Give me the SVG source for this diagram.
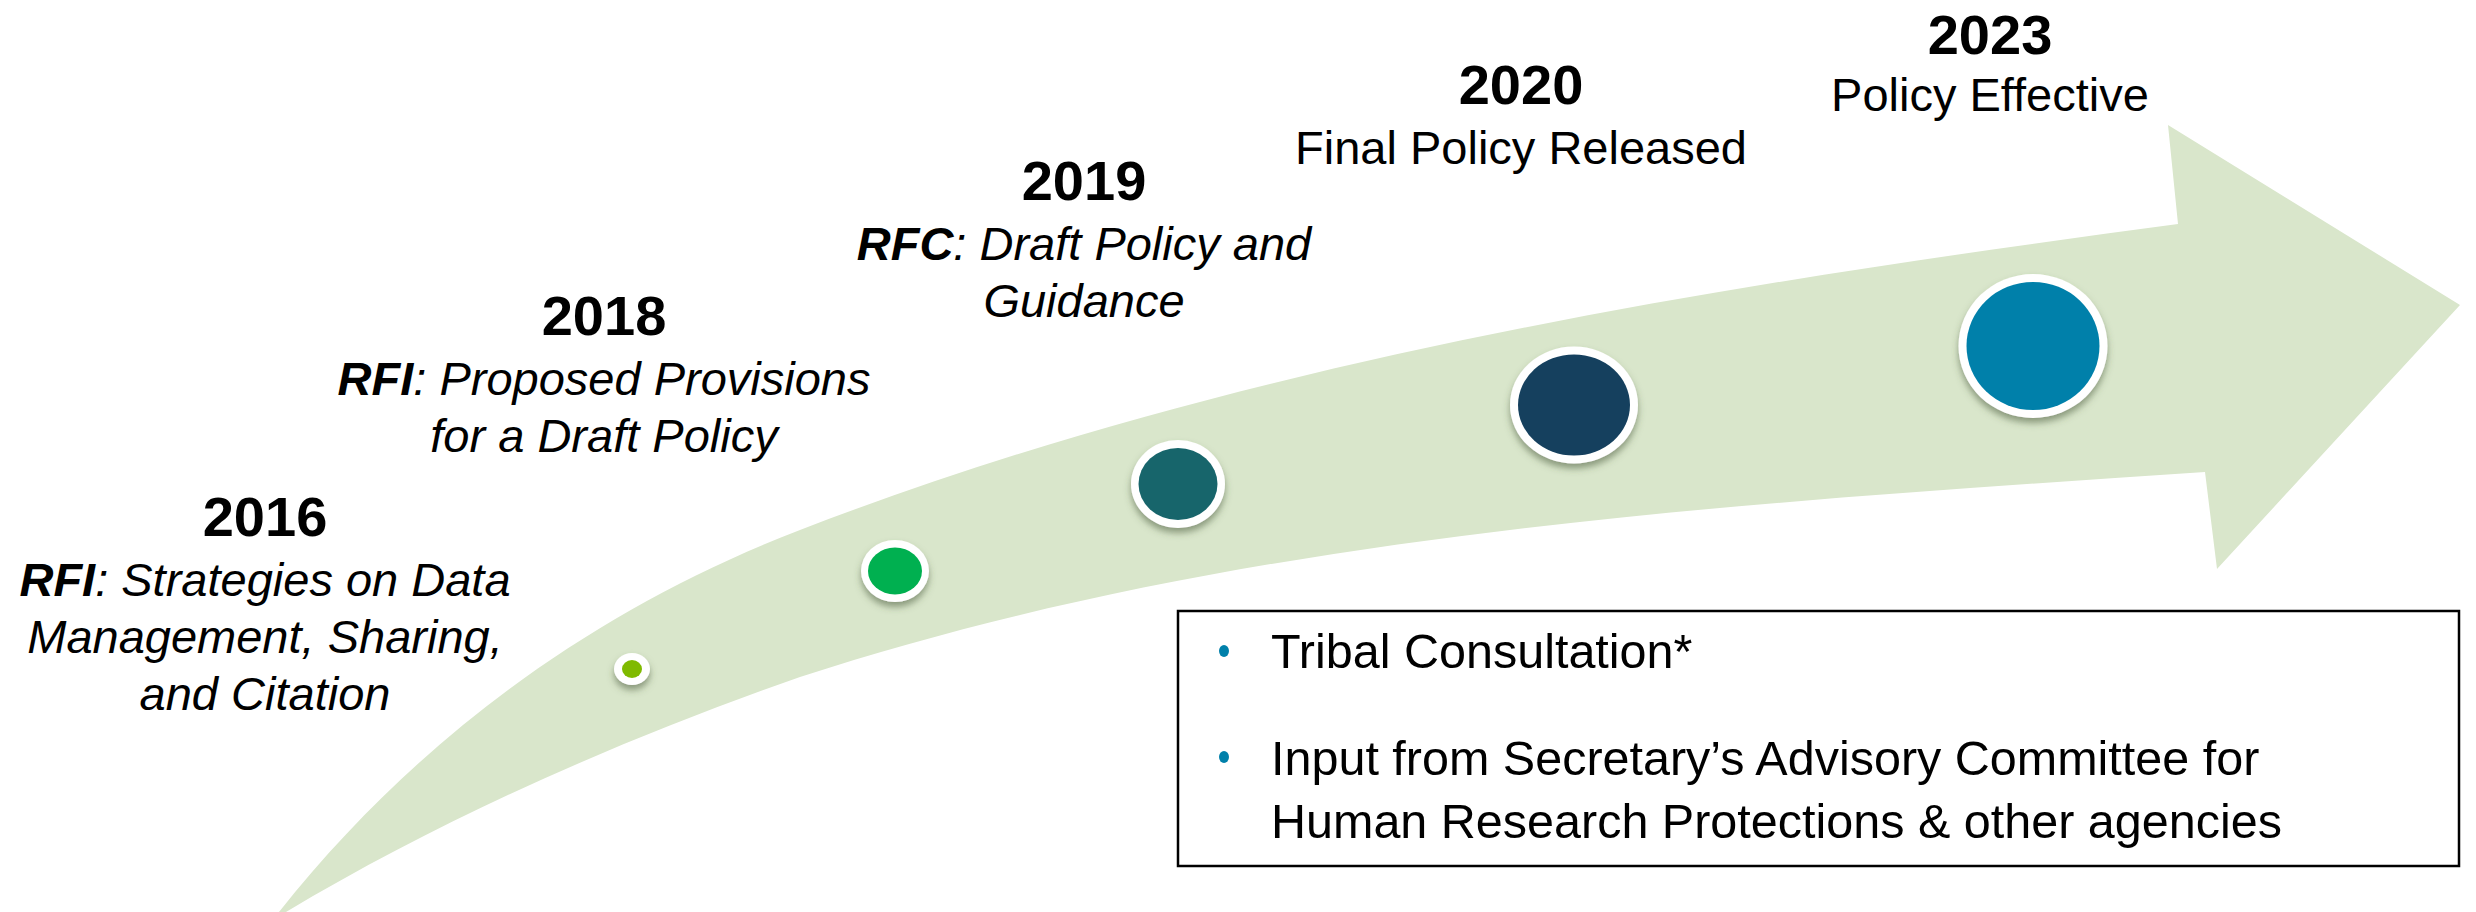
<svg xmlns="http://www.w3.org/2000/svg" width="2476" height="912" viewBox="0 0 2476 912">
  <defs>
    <filter id="shadow" x="-30%" y="-30%" width="160%" height="170%">
      <feDropShadow dx="0" dy="5" stdDeviation="3.5" flood-color="#4a5a3a" flood-opacity="0.55"/>
    </filter>
  </defs>
  <style>
    .yr { font-family: "Liberation Sans", Arial, sans-serif; font-weight: bold; font-size: 56px; fill: #000; text-anchor: middle; }
    .lbl { font-family: "Liberation Sans", Arial, sans-serif; font-size: 47px; fill: #000; text-anchor: middle; }
    .it { font-style: italic; }
    .b { font-weight: bold; }
    .box { font-family: "Liberation Sans", Arial, sans-serif; font-size: 48.5px; fill: #000; }
    .ring { fill: #fff; filter: url(#shadow); }
    .dot { fill: #0080AA; }
  </style>
  <rect width="2476" height="912" fill="#fff"/>

  <g id="arrow">
    <path d="M 2178,224 L 2168,125 L 2460,305 L 2217,569 L 2205,472 C 1736,504 1247,531 800,677 C 621,740 449,815 286,912 L 279,912 C 417,738 595,609 800,530 C 1237,361 1713,286 2178,224 Z" fill="#D9E6CB"/>
  </g>

  <g id="node-2016">
    <ellipse class="ring" cx="632" cy="669" rx="18" ry="16"/>
    <ellipse cx="632" cy="669" rx="10" ry="9" fill="#7FBA00"/>
    <text class="yr" x="265" y="536">2016</text>
    <text class="lbl it" x="265" y="596"><tspan class="b">RFI</tspan>: Strategies on Data</text>
    <text class="lbl it" x="265" y="653">Management, Sharing,</text>
    <text class="lbl it" x="265" y="710">and Citation</text>
  </g>

  <g id="node-2018">
    <ellipse class="ring" cx="895" cy="571" rx="34" ry="31"/>
    <ellipse cx="895" cy="571" rx="27" ry="23.5" fill="#00B050"/>
    <text class="yr" x="604" y="335">2018</text>
    <text class="lbl it" x="604" y="395"><tspan class="b">RFI</tspan>: Proposed Provisions</text>
    <text class="lbl it" x="604" y="452">for a Draft Policy</text>
  </g>

  <g id="node-2019">
    <ellipse class="ring" cx="1178" cy="484" rx="47" ry="44"/>
    <ellipse cx="1178" cy="484" rx="39.5" ry="36" fill="#17656B"/>
    <text class="yr" x="1084" y="200">2019</text>
    <text class="lbl it" x="1084" y="260"><tspan class="b">RFC</tspan>: Draft Policy and</text>
    <text class="lbl it" x="1084" y="317">Guidance</text>
  </g>

  <g id="node-2020">
    <ellipse class="ring" cx="1574" cy="405" rx="64" ry="58.5"/>
    <ellipse cx="1574" cy="405" rx="56" ry="50.5" fill="#15405E"/>
    <text class="yr" x="1521" y="104">2020</text>
    <text class="lbl" x="1521" y="164">Final Policy Released</text>
  </g>

  <g id="node-2023">
    <ellipse class="ring" cx="2033" cy="346" rx="74.5" ry="72"/>
    <ellipse cx="2033" cy="346" rx="66.5" ry="64" fill="#0080AA"/>
    <text class="yr" x="1990" y="54">2023</text>
    <text class="lbl" x="1990" y="111">Policy Effective</text>
  </g>

  <g id="notes">
    <rect x="1178" y="611" width="1281" height="255" fill="#fff" stroke="#000" stroke-width="2.5"/>
    <ellipse class="dot" cx="1224" cy="651" rx="5" ry="6"/>
    <text class="box" x="1271" y="668">Tribal Consultation*</text>
    <ellipse class="dot" cx="1224" cy="757" rx="5" ry="6"/>
    <text class="box" x="1271" y="775">Input from Secretary’s Advisory Committee for</text>
    <text class="box" x="1271" y="838">Human Research Protections &amp; other agencies</text>
  </g>

  <g id="connectors"></g>
</svg>
